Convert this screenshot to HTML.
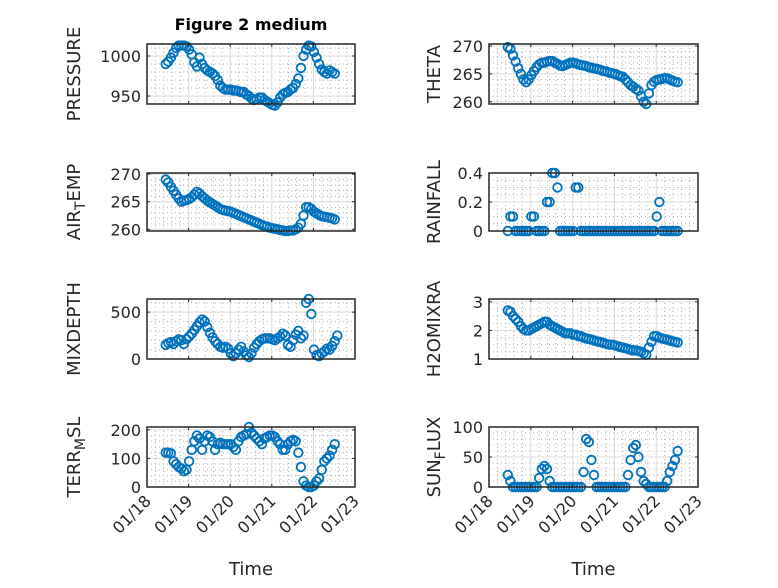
<!DOCTYPE html>
<html><head><meta charset="utf-8"><style>
html,body{margin:0;padding:0;background:#fff;}
svg text{font-family:"DejaVu Sans","Liberation Sans",sans-serif;fill:#262626;}
</style></head><body>
<svg id="fig" width="778" height="583" viewBox="0 0 778 583" xmlns="http://www.w3.org/2000/svg">
<rect width="778" height="583" fill="#fff"/>
<text x="251" y="30" text-anchor="middle" font-size="16" font-weight="bold" style="fill:#000">Figure 2 medium</text>
</svg>
<script>
// time: days since start of month (Jan), 1.5-hour sampling starting 18.45
const timeStart = 18.45;
const timeStepDays = 0.0625;
const xTickValues = [18,19,20,21,22,23];
const xTickLabels = ['01/18','01/19','01/20','01/21','01/22','01/23'];

const pressure = [990,993,998,1004,1010,1013,1013,1013,1012,1008,1002,992,987,998,990,985,982,980,978,975,970,963,960,958,958,958,957,957,956,955,955,952,950,947,945,946,948,948,945,943,941,939,938,942,948,952,954,955,958,960,965,972,985,1000,1008,1013,1012,1005,998,990,983,980,978,982,980,978];
const theta = [269.8,269.5,268.3,267.2,266,265,264,263.5,264,264.8,265.5,266.2,266.7,267,267,267.2,267.3,267.3,267,266.8,266.5,266.4,266.6,266.8,267,267,266.9,266.7,266.6,266.5,266.4,266.2,266.1,266,265.9,265.8,265.6,265.5,265.4,265.2,265.1,265,264.8,264.6,264.5,264,263.5,263,262.7,262.3,262,261,260,259.6,261.5,263,263.6,263.9,264,264.1,264.2,264.2,264,263.8,263.6,263.5];
const airTemp = [269,268.5,267.7,267,266.3,265.6,265,265.2,265.3,265.5,265.8,266.3,266.8,266.5,266,265.6,265.2,264.9,264.6,264.3,264,263.7,263.5,263.4,263.3,263.2,263,262.8,262.6,262.4,262.2,262,261.8,261.6,261.4,261.2,261,260.8,260.6,260.5,260.3,260.2,260.1,260,259.9,259.8,259.7,259.7,259.8,259.8,260,260.3,261,262.5,264,264,263.7,263.2,262.9,262.6,262.4,262.3,262.2,262.1,262,261.8];
const rainfall = [0,0.1,0.1,0,0,0,0,0,0,0.1,0.1,0,0,0,0,0.2,0.2,0.4,0.4,0.3,0,0,0,0,0,0,0.3,0.3,0,0,0,0,0,0,0,0,0,0,0,0,0,0,0,0,0,0,0,0,0,0,0,0,0,0,0,0,0,0.1,0.2,0,0,0,0,0,0,0];
const mixDepth = [150,170,180,160,190,210,200,160,210,240,270,310,350,390,420,400,340,280,230,190,160,130,120,130,110,60,30,60,100,130,80,40,20,60,120,160,190,210,220,220,220,210,200,220,240,270,250,150,130,200,260,300,220,250,600,640,480,100,40,30,60,80,110,100,140,190,250];
const h2oMix = [2.7,2.65,2.5,2.4,2.3,2.15,2.05,2.0,2.0,2.05,2.1,2.15,2.2,2.25,2.3,2.3,2.2,2.15,2.1,2.05,2.0,1.95,1.9,1.9,1.9,1.85,1.85,1.8,1.8,1.75,1.72,1.7,1.68,1.65,1.62,1.6,1.58,1.55,1.52,1.5,1.5,1.48,1.45,1.42,1.4,1.38,1.35,1.32,1.3,1.3,1.28,1.25,1.2,1.15,1.4,1.6,1.8,1.8,1.75,1.72,1.7,1.68,1.65,1.62,1.6,1.58];
const terrMsl = [120,120,118,90,80,70,65,55,60,90,130,160,180,170,130,160,180,175,160,130,150,155,150,150,150,150,140,130,160,175,180,185,210,190,180,170,160,150,170,175,180,180,175,160,150,130,130,150,160,165,160,120,70,20,5,0,0,5,20,30,60,90,100,110,130,150];
const sunFlux = [20,10,0,0,0,0,0,0,0,0,0,0,15,30,35,30,10,0,0,0,0,0,0,0,0,0,0,0,0,25,80,75,45,20,0,0,0,0,0,0,0,0,0,0,0,0,20,45,65,70,50,25,10,5,0,0,0,0,0,0,0,10,25,35,45,60];

const pressureTicks=[950,1000], thetaTicks=[260,265,270], airTicks=[260,265,270], rainTicks=[0,0.2,0.4], rainTickLabels=['0','0.2','0.4'], mixTicks=[0,500], h2oTicks=[1,2,3], terrTicks=[0,100,200], sunTicks=[0,50,100];

const NS='http://www.w3.org/2000/svg';
const svg=document.getElementById('fig');
function mk(tag,attrs,parent){const e=document.createElementNS(NS,tag);for(const k in attrs)e.setAttribute(k,attrs[k]);(parent||svg).appendChild(e);return e;}

const panels=[
 {key:'pressure',data:pressure,x0:147,x1:355,y0:44,y1:104,ymin:940,ymax:1015,ticks:pressureTicks,minor:10,label:['PRESSURE'],bottom:false},
 {key:'theta',data:theta,x0:489,x1:698,y0:44,y1:104,ymin:259.6,ymax:270.36,ticks:thetaTicks,minor:1,label:['THETA'],bottom:false},
 {key:'air-temp',data:airTemp,x0:147,x1:355,y0:173,y1:231,ymin:259.7,ymax:270.2,ticks:airTicks,minor:1,label:['AIR','T','EMP'],bottom:false},
 {key:'rainfall',data:rainfall,x0:489,x1:698,y0:173,y1:231,ymin:0,ymax:0.4,ticks:rainTicks,tl:rainTickLabels,minor:0.05,label:['RAINFALL'],bottom:false},
 {key:'mixdepth',data:mixDepth,x0:147,x1:355,y0:299,y1:359,ymin:0,ymax:640,ticks:mixTicks,minor:100,label:['MIXDEPTH'],bottom:false},
 {key:'h2o-mix',data:h2oMix,x0:489,x1:698,y0:299,y1:359,ymin:1,ymax:3.1,ticks:h2oTicks,minor:0.25,label:['H2OMIXRA'],bottom:false},
 {key:'terr-msl',data:terrMsl,x0:147,x1:355,y0:427,y1:487,ymin:0,ymax:210,ticks:terrTicks,minor:20,label:['TERR','M','SL'],bottom:true},
 {key:'sun-flux',data:sunFlux,x0:489,x1:698,y0:427,y1:487,ymin:0,ymax:100,ticks:sunTicks,minor:10,label:['SUN','F','LUX'],bottom:true}
];

panels.forEach(p=>{
 const xs=d=>p.x0+(d-18)/(23-18)*(p.x1-p.x0);
 const ys=v=>p.y1-(v-p.ymin)/(p.ymax-p.ymin)*(p.y1-p.y0);
 const g=mk('g',{});
 
 
 for(let d=18;d<=23.001;d+=0.2){const x=xs(d);mk('line',{x1:x,x2:x,y1:p.y0,y2:p.y1,stroke:'#b0b0b0','stroke-width':1,'stroke-dasharray':'1 3'},g);}
 const mstart=Math.ceil(p.ymin/p.minor)*p.minor;
 for(let v=mstart;v<=p.ymax+1e-9;v+=p.minor){const y=ys(v);mk('line',{x1:p.x0,x2:p.x1,y1:y,y2:y,stroke:'#b0b0b0','stroke-width':1,'stroke-dasharray':'1 3'},g);}
 xTickValues.forEach(d=>{const x=xs(d);mk('line',{x1:x,x2:x,y1:p.y0,y2:p.y1,stroke:'#dedede','stroke-width':1},g);});
 p.ticks.forEach(v=>{const y=ys(v);mk('line',{x1:p.x0,x2:p.x1,y1:y,y2:y,stroke:'#dedede','stroke-width':1},g);});
 const sg=mk('g',{},g);
 
 
 p.data.forEach((v,i)=>{
  const c=mk('circle',{cx:xs(timeStart+i*timeStepDays),cy:ys(v),r:4.3,fill:'none',stroke:'#0072BD','stroke-width':1.8},sg);
  
  
 });
 mk('rect',{x:p.x0,y:p.y0,width:p.x1-p.x0,height:p.y1-p.y0,fill:'none',stroke:'#262626','stroke-width':1.5},g);
 xTickValues.forEach((d,i)=>{const x=xs(d);
  mk('line',{x1:x,x2:x,y1:p.y1,y2:p.y1-3,stroke:'#262626'},g);
  mk('line',{x1:x,x2:x,y1:p.y0,y2:p.y0+3,stroke:'#262626'},g);
  if(p.bottom){const t=mk('text',{x:x+5,y:p.y1+15,'font-size':16,'text-anchor':'end',transform:`rotate(-45 ${x+5} ${p.y1+15})`},g);t.textContent=xTickLabels[i];
   
   }
 });
 p.ticks.forEach((v,i)=>{const y=ys(v);
  mk('line',{x1:p.x0,x2:p.x0+3,y1:y,y2:y,stroke:'#262626'},g);
  mk('line',{x1:p.x1,x2:p.x1-3,y1:y,y2:y,stroke:'#262626'},g);
  const t=mk('text',{x:p.x0-6,y:y+6,'font-size':16,'text-anchor':'end'},g);t.textContent=p.tl?p.tl[i]:String(v);
  
  
 });
 const lx=p.x0===147?80:440, ly=(p.y0+p.y1)/2;
 const lt=mk('text',{x:lx,y:ly,'font-size':18,'text-anchor':'middle',transform:`rotate(-90 ${lx} ${ly})`},g);
 
 
 p.label.forEach((s,i)=>{const ts=mk('tspan',{},lt);ts.textContent=s;if(i===1){ts.setAttribute('font-size','14');ts.setAttribute('dy','5');}if(i===2){ts.setAttribute('dy','-5');}});
 if(p.bottom){const xt=mk('text',{x:(p.x0+p.x1)/2,y:575,'font-size':18,'text-anchor':'middle'},g);xt.textContent='Time';
  
  }
});
</script>
</body></html>
